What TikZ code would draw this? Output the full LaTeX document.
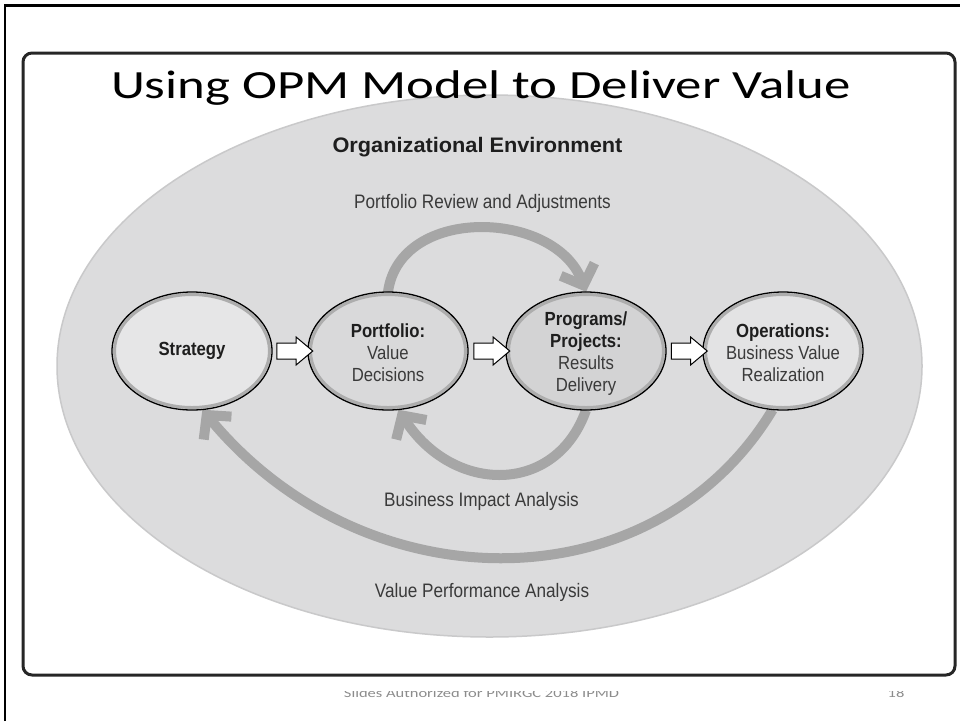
\documentclass[tikz,border=0pt]{standalone}
\usepackage{fontspec}
\setmainfont{Carlito}
\newfontfamily\titlefont[FakeStretch=1.32]{Carlito}
\newfontfamily\cond[FakeStretch=0.88]{Liberation Sans}
\newfontfamily\condhead[FakeStretch=1.035]{Liberation Sans}
\usetikzlibrary{shapes.geometric,shapes.arrows,arrows.meta,calc}
\pgfdeclarelayer{back}
\pgfdeclarelayer{mid}
\pgfsetlayers{back,mid,main}
\definecolor{envgray}{HTML}{DCDCDD}
\definecolor{envrim}{HTML}{C9C9CA}
\definecolor{fillA}{HTML}{E6E6E7}
\definecolor{fillB}{HTML}{D9D9DA}
\definecolor{fillC}{HTML}{D3D3D4}
\definecolor{fillD}{HTML}{E3E3E4}
\definecolor{labtxt}{HTML}{3A3A3A}
\definecolor{boldtxt}{HTML}{1E1E1E}
\definecolor{foot}{HTML}{8C8C8C}
\begin{document}
\begin{tikzpicture}[x=1pt,y=-1pt,
  oval/.style={ellipse, minimum width=160, minimum height=118, inner sep=0},
  ovaltext/.style={align=center, font=\cond\fontsize{19}{22}\selectfont, text=labtxt, inner sep=0},
  lab/.style={anchor=base, font=\cond\fontsize{19.5}{22}\selectfont, text=labtxt, inner sep=0},
  blk/.style={single arrow, draw=black, fill=white, line width=1, minimum height=36,
    single arrow head extend=6, single arrow tip angle=80, inner sep=7.5},
  garr/.style={draw=black!35, line width=10, -{Straight Barb[length=17pt, width=36pt]}},
  foottext/.style={anchor=base, font=\titlefont\fontsize{12.5}{14}\selectfont, text=foot, inner sep=0}
]
\useasboundingbox (0,0) rectangle (960,721);
\begin{pgfonlayer}{back}
  \fill[white] (0,0) rectangle (960,721);
  \filldraw[fill=envgray, draw=envrim, line width=1.5] (489.5,366) ellipse [x radius=432.5, y radius=271];
\end{pgfonlayer}

% slide frame and content box
\draw[line width=2.5] (5,721) -- (5,5.5) -- (960,5.5);
\draw[line width=3, draw=black!85, rounded corners=9] (23,53) rectangle (955,675);

% title and headings
\node[anchor=base, font=\titlefont\fontsize{40}{44}\selectfont, inner sep=0] (title) at (481,98) {Using OPM Model to Deliver Value};
\node[anchor=base, font=\condhead\bfseries\fontsize{21}{24}\selectfont, text=boldtxt, inner sep=0] (env) at (477.5,152) {Organizational Environment};

% ellipses
\node[oval, fill=fillA] (strat) at (192,351) {};
\node[oval, fill=fillB] (port) at (388,351) {};
\node[oval, fill=fillC] (prog) at (586,351) {};
\node[oval, fill=fillD] (ops) at (783,351) {};
\foreach \n in {strat,port,prog,ops}{
  \draw[black!32, line width=3] (\n.center) ellipse [x radius=77.5, y radius=56.5];
  \draw[line width=1.3] (\n.center) ellipse [x radius=80, y radius=59];
}

\node[ovaltext] (stratt) at (strat.center) {\textbf{\textcolor{boldtxt}{Strategy}}};
\node[ovaltext] (portt) at ([yshift=-2]port.center) {\textbf{\textcolor{boldtxt}{Portfolio:}}\\Value\\Decisions};
\node[ovaltext] (progt) at ([yshift=-3]prog.center) {\textbf{\textcolor{boldtxt}{Programs/}}\\\textbf{\textcolor{boldtxt}{Projects:}}\\Results\\Delivery};
\node[ovaltext] (opst) at ([yshift=-2]ops.center) {\textbf{\textcolor{boldtxt}{Operations:}}\\Business Value\\Realization};

% hollow block arrows
\node[blk] (a1) at ($(strat.east)!0.5!(port.west)$) {};
\node[blk] (a2) at ($(port.east)!0.5!(prog.west)$) {};
\node[blk] (a3) at ($(prog.east)!0.5!(ops.west)$) {};

% gray feedback arrows
\begin{pgfonlayer}{mid}
  \draw[garr] (port.north) .. controls +(12,-87) and +(-31,-82) .. (prog.north);
  \draw[garr] (prog.south) .. controls +(-30,85) and +(55,85) .. (port.-80);
  \draw[garr] (ops.-100) .. controls +(-118,196) and +(163,197) .. (strat.-80);
\end{pgfonlayer}

% labels
\node[lab] (l1) at (482.5,208) {Portfolio Review and Adjustments};
\node[lab] (l2) at (481.5,506) {Business Impact Analysis};
\node[lab] (l3) at (482,597) {Value Performance Analysis};

% footer (partly hidden)
\begin{scope}
  \clip (0,691) rectangle (960,721);
  \node[foottext] (foot) at (481.5,697) {Slides Authorized for PMIRGC 2018 IPMD};
  \node[foottext] (pnum) at (896,697) {18};
\end{scope}
\end{tikzpicture}
\end{document}
